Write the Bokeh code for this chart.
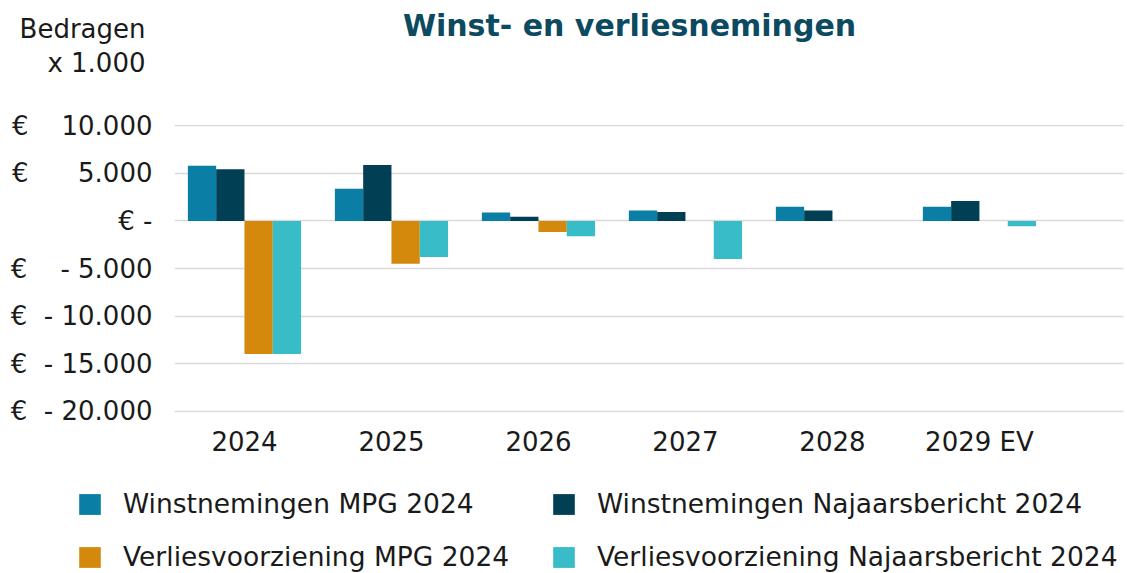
from bokeh.plotting import figure
from bokeh.layouts import column
from bokeh.models import (ColumnDataSource, Range1d, FixedTicker, Legend, LegendItem,
                          Label)
from bokeh.embed import file_html
from bokeh.resources import INLINE

# ---- data (euro x 1.000) ----
categories = ["2024", "2025", "2026", "2027", "2028", "2029 EV"]
winst_mpg = [5800, 3400, 900, 1100, 1500, 1500]
winst_nj = [5450, 5900, 450, 950, 1100, 2100]
verlies_mpg = [-14000, -4500, -1150, 0, 0, 0]
verlies_nj = [-14000, -3800, -1600, -4000, 0, -550]

series_names = ["Winstnemingen MPG 2024", "Winstnemingen Najaarsbericht 2024",
                "Verliesvoorziening MPG 2024", "Verliesvoorziening Najaarsbericht 2024"]
series_values = [winst_mpg, winst_nj, verlies_mpg, verlies_nj]
series_colors = ["#0a7ea4", "#003f54", "#d4890c", "#37bcc8"]

y_ticks = [-20000, -15000, -10000, -5000, 0, 5000, 10000]
NB = "\u00a0"
y_tick_labels = {
    10000: "€" + NB * 4 + "10.000",
    5000: "€" + NB * 6 + "5.000",
    0: "€ -",
    -5000: "€" + NB * 4 + "-" + NB + "5.000",
    -10000: "€" + NB * 2 + "-" + NB + "10.000",
    -15000: "€" + NB * 2 + "-" + NB + "15.000",
    -20000: "€" + NB * 2 + "-" + NB + "20.000",
}

FONT = "DejaVu Sans"
TXT = "#1a1a1a"
FS = "26px"
FS_LEG = "26.5px"

W = 1127
H_MAIN = 470
H_LEG = 103

p = figure(width=W, height=H_MAIN, output_backend="svg", toolbar_location=None,
           x_range=Range1d(-0.476, 5.98), y_range=Range1d(-20150, 10150),
           min_border_left=174, min_border_right=4, min_border_top=124,
           min_border_bottom=H_MAIN - 412)
p.frame_align = False
p.outline_line_color = None
p.background_fill_color = "white"
p.border_fill_color = "white"

bw = 0.1925
offsets = [-1.5 * bw, -0.5 * bw, 0.5 * bw, 1.5 * bw]
sources = []
for name, vals, col, off in zip(series_names, series_values, series_colors, offsets):
    src = ColumnDataSource(dict(x=[i + off for i in range(len(categories))], top=vals))
    sources.append(src)
    p.vbar(x="x", top="top", bottom=0, width=bw, source=src,
           fill_color=col, line_color=None)

# axes
p.xaxis.ticker = FixedTicker(ticks=list(range(len(categories))))
p.xaxis.major_label_overrides = {i: c for i, c in enumerate(categories)}
p.yaxis.ticker = FixedTicker(ticks=y_ticks)
p.yaxis.major_label_overrides = y_tick_labels
for ax in (p.xaxis[0], p.yaxis[0]):
    ax.axis_line_color = None
    ax.major_tick_line_color = None
    ax.minor_tick_line_color = None
    ax.major_tick_out = 0
    ax.major_tick_in = 0
    ax.major_label_text_font = FONT
    ax.major_label_text_font_size = FS
    ax.major_label_text_color = TXT
p.xaxis.major_label_standoff = 14
p.yaxis.major_label_standoff = 22

p.xgrid.grid_line_color = None
p.ygrid.grid_line_color = "#d9d9d9"
p.ygrid.grid_line_width = 1.6

# title and unit label (canvas coordinates, in the top margin)
p.add_layout(Label(x=629, y=25, x_units="canvas", y_units="canvas",
                   text="Winst- en verliesnemingen", text_align="center",
                   text_baseline="middle", text_font=FONT, text_font_size="30px",
                   text_font_style="bold", text_color="#0b4a60"), "above")
p.add_layout(Label(x=145, y=28, x_units="canvas", y_units="canvas", text="Bedragen",
                   text_align="right", text_baseline="middle", text_font=FONT,
                   text_font_size=FS, text_color=TXT), "above")
p.add_layout(Label(x=145, y=62, x_units="canvas", y_units="canvas", text="x 1.000",
                   text_align="right", text_baseline="middle", text_font=FONT,
                   text_font_size=FS, text_color=TXT), "above")

# legend in its own strip below the chart (its bars lie outside its view)
pl = figure(width=W, height=H_LEG, output_backend="svg", toolbar_location=None,
            x_range=Range1d(-0.476, 5.98), y_range=Range1d(100000, 110000),
            min_border_left=0, min_border_right=0, min_border_top=0,
            min_border_bottom=0, x_axis_type=None, y_axis_type=None)
pl.frame_align = False
pl.outline_line_color = None
pl.xgrid.grid_line_color = None
pl.ygrid.grid_line_color = None
leg_renderers = []
for src, col in zip(sources, series_colors):
    r = pl.vbar(x="x", top="top", bottom=0, width=bw, source=src,
                fill_color=col, line_color=None)
    leg_renderers.append(r)
items = [LegendItem(label=n, renderers=[r]) for n, r in zip(series_names, leg_renderers)]
legend = Legend(items=items, ncols=2, location=(76, 1), orientation="horizontal",
                glyph_width=27, glyph_height=26, label_standoff=20, label_width=405,
                spacing=22, padding=0, margin=0, border_line_color=None,
                background_fill_alpha=0, label_text_font=FONT,
                label_text_font_size=FS_LEG, label_text_color=TXT)
pl.add_layout(legend, "center")

layout = column(p, pl, spacing=0)
open("out.html", "w").write(file_html(layout, INLINE))
